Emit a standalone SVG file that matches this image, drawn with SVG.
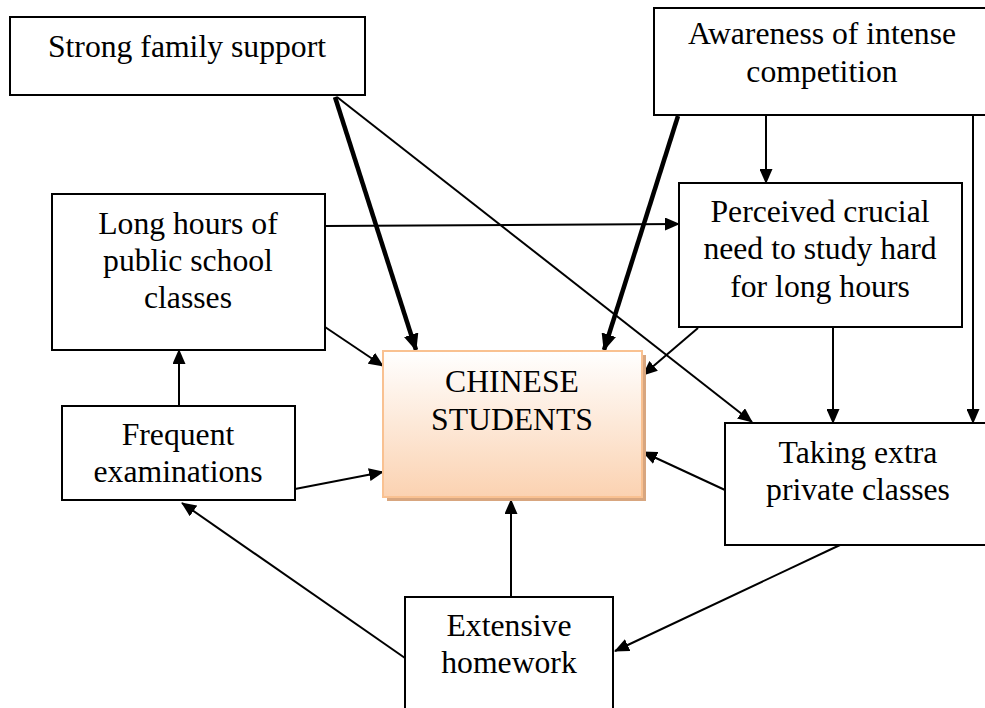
<svg xmlns="http://www.w3.org/2000/svg" width="985" height="708" viewBox="0 0 985 708">
  <style>
    .box { fill: #ffffff; stroke: #000000; stroke-width: 2; }
    .label { font-family: "Liberation Serif", "Times New Roman", serif; font-size: 31.7px; fill: #000000; text-anchor: middle; }
    .link { stroke: #000000; stroke-width: 2; fill: none; marker-end: url(#head); }
    .bold { stroke: #000000; stroke-width: 4.5; fill: none; marker-end: url(#headBold); }
  </style>
  <defs>
    <marker id="head" markerUnits="userSpaceOnUse" markerWidth="15" markerHeight="13" refX="14" refY="6.5" orient="auto">
      <path d="M0,0 L15,6.5 L0,13 z" fill="#000000"/>
    </marker>
    <marker id="headBold" markerUnits="userSpaceOnUse" markerWidth="17" markerHeight="15" refX="16" refY="7.5" orient="auto">
      <path d="M0,0 L17,7.5 L0,15 z" fill="#000000"/>
    </marker>
    <linearGradient id="peach" x1="0" y1="0" x2="0" y2="1">
      <stop offset="0" stop-color="#ffffff"/>
      <stop offset="1" stop-color="#fbd2b1"/>
    </linearGradient>
  </defs>

  <rect width="985" height="708" fill="#ffffff"/>

  <!-- connectors -->
  <g id="connectors">
    <line class="bold" x1="335" y1="97" x2="416" y2="350"/>
    <line class="link" x1="337" y1="97" x2="752" y2="422"/>
    <line class="bold" x1="678" y1="116" x2="604" y2="350"/>
    <line class="link" x1="766" y1="115" x2="766" y2="183"/>
    <line class="link" x1="973" y1="115" x2="973" y2="423"/>
    <line class="link" x1="325" y1="226" x2="679" y2="224"/>
    <line class="link" x1="325" y1="327" x2="383" y2="366"/>
    <line class="link" x1="179" y1="406" x2="179" y2="350"/>
    <line class="link" x1="295" y1="489" x2="383" y2="472"/>
    <line class="link" x1="405" y1="658" x2="182" y2="503"/>
    <line class="link" x1="511" y1="597" x2="511" y2="500"/>
    <line class="link" x1="698" y1="328" x2="643" y2="375"/>
    <line class="link" x1="833" y1="327" x2="833" y2="423"/>
    <line class="link" x1="725" y1="490" x2="643" y2="452"/>
    <line class="link" x1="840" y1="545" x2="615" y2="651"/>
  </g>

  <g id="strong-family-support">
    <rect class="box" x="10" y="17" width="355" height="78"/>
    <text class="label" x="187" y="57">Strong family support</text>
  </g>

  <g id="awareness-competition">
    <rect class="box" x="654" y="8" width="340" height="107"/>
    <text class="label" x="822" y="44">Awareness of intense</text>
    <text class="label" x="822" y="82">competition</text>
  </g>

  <g id="long-hours">
    <rect class="box" x="52" y="194" width="273" height="156"/>
    <text class="label" x="188" y="234">Long hours of</text>
    <text class="label" x="188" y="271">public school</text>
    <text class="label" x="188" y="308">classes</text>
  </g>

  <g id="perceived-need">
    <rect class="box" x="679" y="183" width="283" height="144"/>
    <text class="label" x="820" y="222">Perceived crucial</text>
    <text class="label" x="820" y="259">need to study hard</text>
    <text class="label" x="820" y="297">for long hours</text>
  </g>

  <g id="frequent-examinations">
    <rect class="box" x="62" y="406" width="233" height="94"/>
    <text class="label" x="178" y="445">Frequent</text>
    <text class="label" x="178" y="482">examinations</text>
  </g>

  <g id="chinese-students">
    <rect x="387" y="355" width="259" height="146" fill="#d8a67f"/>
    <rect x="383" y="351" width="259" height="146" fill="url(#peach)" stroke="#f9c191" stroke-width="2"/>
    <text class="label" x="512" y="392">CHINESE</text>
    <text class="label" x="512" y="430">STUDENTS</text>
  </g>

  <g id="private-classes">
    <rect class="box" x="725" y="423" width="270" height="122"/>
    <text class="label" x="858" y="463">Taking extra</text>
    <text class="label" x="858" y="500">private classes</text>
  </g>

  <g id="extensive-homework">
    <rect class="box" x="405" y="597" width="208" height="120"/>
    <text class="label" x="509" y="636">Extensive</text>
    <text class="label" x="509" y="673">homework</text>
  </g>
</svg>
